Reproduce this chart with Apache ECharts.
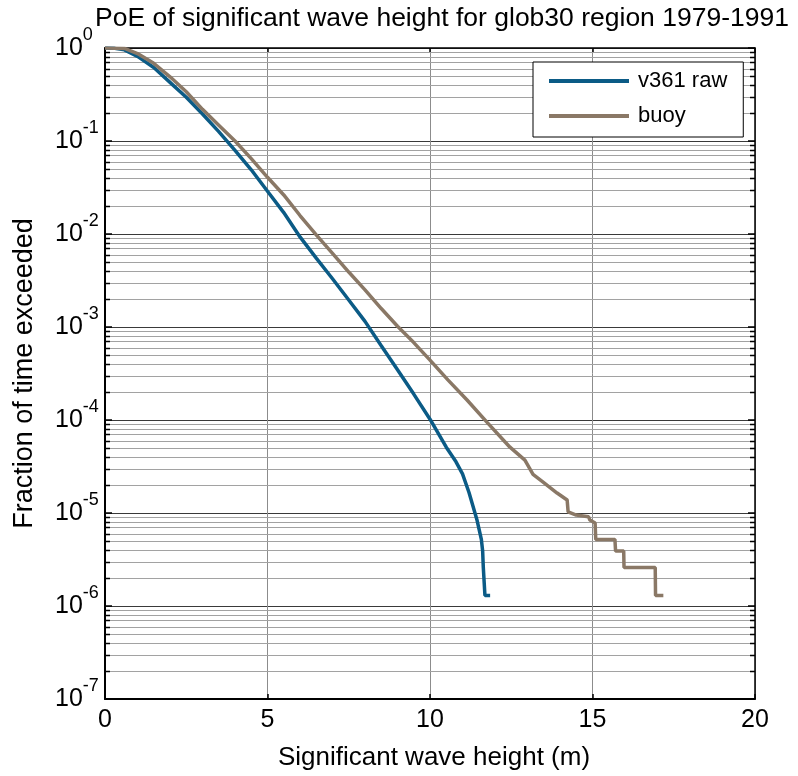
<!DOCTYPE html>
<html>
<head>
<meta charset="utf-8">
<script src="https://cdn.jsdelivr.net/npm/echarts@6/dist/echarts.min.js"></script>
<style>html,body{margin:0;padding:0;background:#fff;}#c{width:798px;height:776px;}</style>
</head>
<body>
<div id="c"></div>
<script>
const titleText = 'PoE of significant wave height for glob30 region 1979-1991';
const xName = 'Significant wave height (m)';
const yName = 'Fraction of time exceeded';
const seriesNames = ['v361 raw', 'buoy'];
const xTicks = [0, 5, 10, 15, 20];
const yTickExponents = [0, -1, -2, -3, -4, -5, -6, -7];
const minorMultipliers = [2, 3, 4, 5, 6, 7, 8, 9];

const v361X = [0, 0.3, 0.6, 1.0, 1.5, 2.0, 2.5, 3.0, 3.5, 4.0, 4.5, 5.0, 5.5, 6.0, 6.5, 7.0, 7.5, 8.0, 8.5, 9.0, 9.5, 10.0, 10.5, 10.8, 11.0, 11.2, 11.35, 11.45, 11.58, 11.62, 11.64, 11.69, 11.69, 11.85];
const v361Y = [1, 0.991, 0.955, 0.813, 0.617, 0.427, 0.295, 0.195, 0.126, 0.0794, 0.049, 0.0288, 0.017, 0.0093, 0.0055, 0.0033, 0.00195, 0.00115, 6.3e-4, 3.47e-4, 1.9e-4, 1.02e-4, 5.1e-5, 3.55e-5, 2.63e-5, 1.66e-5, 1.1e-5, 8.3e-6, 5.2e-6, 3.9e-6, 2.6e-6, 2.6e-6, 1.3e-6, 1.3e-6];

const buoyX = [0, 0.6, 1.0, 1.5, 2.0, 2.5, 3.0, 3.5, 4.0, 4.5, 5.0, 5.5, 6.0, 6.5, 7.0, 7.5, 8.0, 8.5, 9.0, 9.5, 10.0, 10.55, 11.14, 11.75, 12.46, 12.92, 13.17, 13.48, 13.91, 14.22, 14.25, 14.5, 14.88, 14.92, 15.08, 15.10, 15.69, 15.71, 15.96, 15.97, 16.93, 16.94, 17.18];
const buoyY = [1, 0.989, 0.871, 0.684, 0.49, 0.339, 0.219, 0.148, 0.1, 0.0646, 0.0407, 0.0263, 0.0158, 0.0098, 0.0062, 0.0039, 0.00251, 0.00158, 0.00102, 6.8e-4, 4.4e-4, 2.7e-4, 1.64e-4, 9.5e-5, 5.1e-5, 3.7e-5, 2.6e-5, 2.15e-5, 1.64e-5, 1.38e-5, 1.03e-5, 9.5e-6, 9.1e-6, 8.4e-6, 7.8e-6, 5.2e-6, 5.2e-6, 3.9e-6, 3.9e-6, 2.6e-6, 2.6e-6, 1.3e-6, 1.3e-6];

const FONT = '"Liberation Sans", Arial, sans-serif';
const zip = (xs, ys) => xs.map((x, i) => [x, ys[i]]);

const minorVals = [];
for (let e = yTickExponents[yTickExponents.length - 1]; e < 0; e++) {
  minorMultipliers.forEach(k => minorVals.push([xTicks[0], k * Math.pow(10, e)]));
}
const xMin = xTicks[0], xMax = xTicks[xTicks.length - 1];
const yMin = Math.pow(10, Math.min(...yTickExponents)), yMax = Math.pow(10, Math.max(...yTickExponents));

const chart = echarts.init(document.getElementById('c'), null, {renderer: 'canvas'});
chart.setOption({
  animation: false,
  backgroundColor: '#fff',
  title: {
    text: titleText, left: 442, top: 5, textAlign: 'center', padding: 0,
    textStyle: {fontFamily: FONT, fontSize: 26.5, fontWeight: 'normal', color: '#000'}
  },
  legend: {
    data: seriesNames, orient: 'vertical', left: 533, top: 62,
    padding: [8, 16, 10, 16], itemGap: 13, itemWidth: 80, itemHeight: 4, icon: 'rect',
    backgroundColor: '#fff', borderColor: '#000', borderWidth: 1, borderRadius: 0,
    textStyle: {fontFamily: FONT, fontSize: 22, color: '#000', padding: [0, 0, 0, 4]}
  },
  grid: {left: 105, right: 43, top: 48, bottom: 77, containLabel: false},
  xAxis: [{
    type: 'value', min: xMin, max: xMax, interval: 5, position: 'bottom',
    name: xName, nameLocation: 'middle', nameGap: 46,
    nameTextStyle: {fontFamily: FONT, fontSize: 26, color: '#000', padding: [0, 0, 0, 8]},
    axisLine: {show: true, onZero: false, lineStyle: {color: '#000', width: 2}},
    axisTick: {show: true, inside: true, length: 5, lineStyle: {color: '#000', width: 1.5}},
    axisLabel: {margin: 9, fontFamily: FONT, fontSize: 25, color: '#000'},
    splitLine: {show: true, lineStyle: {color: '#8c8c8c', width: 1}}
  }, {
    type: 'value', min: xMin, max: xMax, interval: 5, position: 'top',
    axisLine: {show: true, onZero: false, lineStyle: {color: '#000', width: 1.5}},
    axisTick: {show: true, inside: true, length: 5, lineStyle: {color: '#000', width: 1.5}},
    axisLabel: {show: false}, splitLine: {show: false}
  }],
  yAxis: [{
    type: 'log', logBase: 10, min: yMin, max: yMax, splitNumber: 7, position: 'left',
    name: yName, nameLocation: 'middle', nameGap: 67,
    nameTextStyle: {fontFamily: FONT, fontSize: 27, color: '#000'},
    axisLine: {show: true, onZero: false, lineStyle: {color: '#000', width: 2}},
    axisTick: {show: true, inside: true, length: 7, lineStyle: {color: '#000', width: 1.5}},
    axisLabel: {
      margin: 50, align: 'left',
      formatter: v => '{b|10}{e|' + Math.round(Math.log10(v)) + '}',
      rich: {
        b: {fontFamily: FONT, fontSize: 25, color: '#000'},
        e: {fontFamily: FONT, fontSize: 18, color: '#000', padding: [0, 0, 26, 0]}
      }
    },
    splitLine: {show: true, lineStyle: {color: '#3a3a3a', width: 1}}
  }, {
    type: 'log', logBase: 10, min: yMin, max: yMax, splitNumber: 7, position: 'right',
    axisLine: {show: true, onZero: false, lineStyle: {color: '#000', width: 1.5}},
    axisTick: {show: true, inside: true, length: 7, lineStyle: {color: '#000', width: 1.5}},
    axisLabel: {show: false}, splitLine: {show: false}
  }],
  series: [{
    type: 'custom', name: 'minor', xAxisIndex: 0, yAxisIndex: 0, z: 1, silent: true,
    data: minorVals,
    renderItem: (params, api) => {
      const v = api.value(1);
      const p0 = api.coord([xMin, v]);
      const p1 = api.coord([xMax, v]);
      const y = Math.round(p0[1]) + 0.5;
      return {type: 'group', children: [
        {type: 'line', shape: {x1: p0[0], y1: y, x2: p1[0], y2: y}, style: {stroke: '#a2a2a2', lineWidth: 1}},
        {type: 'line', shape: {x1: p0[0], y1: y, x2: p0[0] + 5, y2: y}, style: {stroke: '#000', lineWidth: 1.5}},
        {type: 'line', shape: {x1: p1[0], y1: y, x2: p1[0] - 5, y2: y}, style: {stroke: '#000', lineWidth: 1.5}}
      ]};
    }
  }, {
    type: 'line', name: seriesNames[0], data: zip(v361X, v361Y), showSymbol: false, z: 3,
    color: '#0b5b86', lineStyle: {width: 3.5, color: '#0b5b86'}
  }, {
    type: 'line', name: seriesNames[1], data: zip(buoyX, buoyY), showSymbol: false, z: 4,
    color: '#8a7866', lineStyle: {width: 3.5, color: '#8a7866'}
  }]
});
</script>
</body>
</html>
